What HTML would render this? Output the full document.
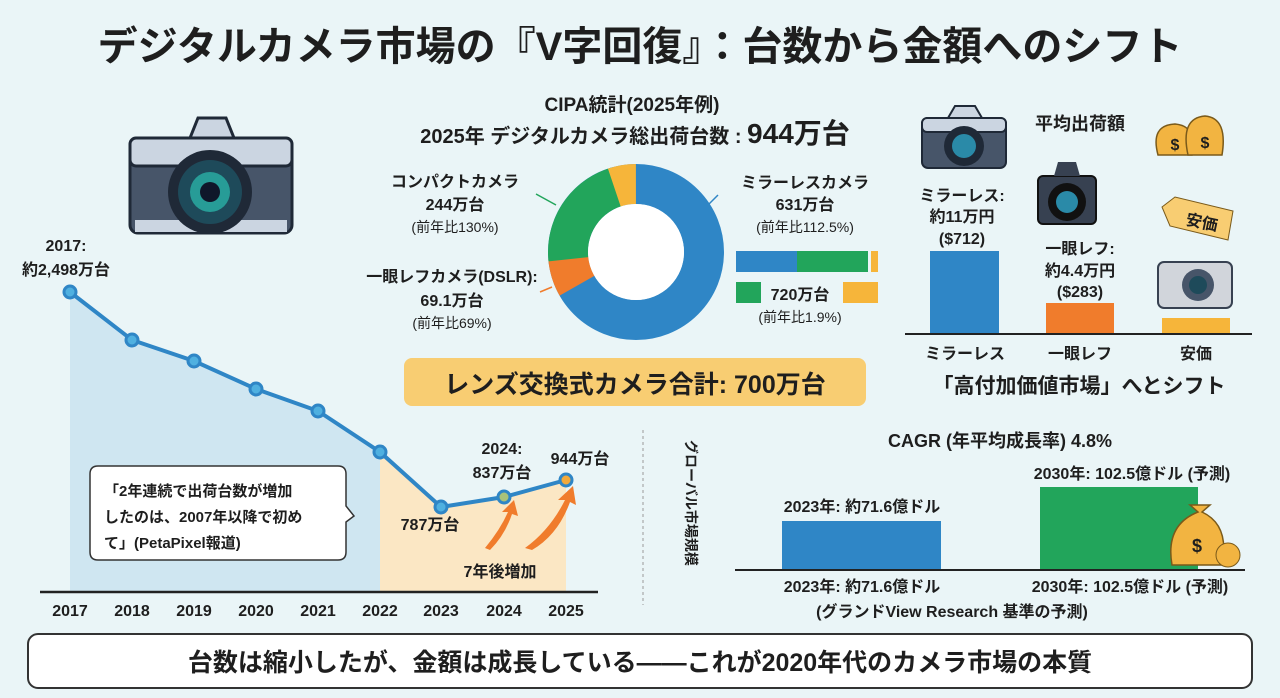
<!DOCTYPE html>
<html><head><meta charset="utf-8"><style>
html,body{margin:0;padding:0;background:#eaf5f7;}
svg{display:block;font-family:"Liberation Sans","Noto Sans CJK JP",sans-serif;}
.b{font-weight:bold;fill:#1e1e1e}
</style></head><body>
<svg width="1280" height="698" viewBox="0 0 1280 698" xmlns="http://www.w3.org/2000/svg">
<rect width="1280" height="698" fill="#eaf5f7"/>
<text x="640" y="60" text-anchor="middle" class="b" font-size="40">デジタルカメラ市場の『V字回復』：台数から金額へのシフト</text>

<!-- left camera -->
<g>
<rect x="130" y="138" width="162" height="95" rx="8" fill="#475569" stroke="#1f2937" stroke-width="3"/>
<rect x="130" y="138" width="162" height="28" rx="6" fill="#cbd5e1" stroke="#1f2937" stroke-width="3"/>
<path d="M190 138 L198 118 L226 118 L234 138 Z" fill="#cbd5e1" stroke="#1f2937" stroke-width="3"/>
<rect x="135" y="220" width="152" height="12" fill="#cbd5e1"/>
<circle cx="210" cy="192" r="42" fill="#1f2937"/>
<circle cx="210" cy="192" r="32" fill="#1e4a5a"/>
<circle cx="210" cy="192" r="20" fill="#2dd4bf" opacity=".6"/>
<circle cx="210" cy="192" r="10" fill="#0f172a"/>
</g>

<!-- line chart -->
<polygon points="70,292 132,340 194,361 256,389 318,411 380,452 380,592 70,592" fill="#cfe6f1"/>
<polygon points="380,452 441,507 504,497 566,480 566,592 380,592" fill="#fbe7c4"/>
<line x1="40" y1="592" x2="598" y2="592" stroke="#222" stroke-width="2.5"/>
<polyline points="70,292 132,340 194,361 256,389 318,411 380,452 441,507 504,497 566,480" fill="none" stroke="#2f86c6" stroke-width="4"/>
<g fill="#4fb0e0" stroke="#2f86c6" stroke-width="3">
<circle cx="70" cy="292" r="6"/><circle cx="132" cy="340" r="6"/><circle cx="194" cy="361" r="6"/><circle cx="256" cy="389" r="6"/><circle cx="318" cy="411" r="6"/><circle cx="380" cy="452" r="6"/><circle cx="441" cy="507" r="6"/>
<circle cx="504" cy="497" r="6" fill="#a9c27a"/><circle cx="566" cy="480" r="6" fill="#f2a93b"/>
</g>
<g class="b" font-size="16" text-anchor="middle">
<text x="70" y="616">2017</text><text x="132" y="616">2018</text><text x="194" y="616">2019</text><text x="256" y="616">2020</text><text x="318" y="616">2021</text><text x="380" y="616">2022</text><text x="441" y="616">2023</text><text x="504" y="616">2024</text><text x="566" y="616">2025</text>
<text x="66" y="251">2017:</text><text x="66" y="275">約2,498万台</text>
<text x="502" y="454">2024:</text><text x="502" y="478">837万台</text>
<text x="580" y="464">944万台</text>
<text x="430" y="530">787万台</text>
<text x="500" y="577">7年後増加</text>
</g>
<path d="M485 548 Q500 530 508 512 L502 512 L514 500 L518 516 L512 514 Q505 535 490 550 Z" fill="#f07c2c"/>
<path d="M525 548 Q550 530 565 500 L558 500 L573 486 L576 505 L570 502 Q558 535 532 550 Z" fill="#f07c2c"/>
<path d="M98 466 H338 Q346 466 346 474 V506 L354 516 L346 522 V552 Q346 560 338 560 H98 Q90 560 90 552 V474 Q90 466 98 466 Z" fill="#fff" stroke="#333" stroke-width="1.5"/>
<g class="b" font-size="15">
<text x="104" y="496">「2年連続で出荷台数が増加</text>
<text x="104" y="522">したのは、2007年以降で初め</text>
<text x="104" y="548">て」(PetaPixel報道)</text>
</g>

<!-- donut -->
<g transform="translate(636,252)">
<circle r="68" fill="none" stroke="#2f86c6" stroke-width="40"/>
<circle r="68" fill="none" stroke="#f07c2c" stroke-width="40" stroke-dasharray="30 397" stroke-dashoffset="-285" transform="rotate(-90)"/>
<circle r="68" fill="none" stroke="#22a55b" stroke-width="40" stroke-dasharray="95 332" stroke-dashoffset="-313" transform="rotate(-90)"/>
<circle r="68" fill="none" stroke="#f6b53a" stroke-width="40" stroke-dasharray="22 405" stroke-dashoffset="-405" transform="rotate(-90)"/>
<circle r="48" fill="#fff"/>
</g>
<line x1="536" y1="194" x2="556" y2="205" stroke="#22a55b" stroke-width="1.5"/>
<line x1="540" y1="292" x2="552" y2="287" stroke="#f07c2c" stroke-width="1.5"/>
<line x1="718" y1="195" x2="708" y2="205" stroke="#2f86c6" stroke-width="1.5"/>
<g class="b" text-anchor="middle">
<text x="632" y="111" font-size="19">CIPA統計(2025年例)</text>
<text x="635" y="143" font-size="20">2025年 デジタルカメラ総出荷台数 : <tspan font-size="28">944万台</tspan></text>
<text x="455" y="187" font-size="16">コンパクトカメラ</text>
<text x="455" y="210" font-size="16">244万台</text>
<text x="455" y="232" font-size="14" font-weight="normal">(前年比130%)</text>
<text x="452" y="282" font-size="16">一眼レフカメラ(DSLR):</text>
<text x="452" y="306" font-size="16">69.1万台</text>
<text x="452" y="328" font-size="14" font-weight="normal">(前年比69%)</text>
<text x="805" y="188" font-size="16">ミラーレスカメラ</text>
<text x="805" y="210" font-size="16">631万台</text>
<text x="805" y="232" font-size="14" font-weight="normal">(前年比112.5%)</text>
<text x="800" y="300" font-size="16">720万台</text>
<text x="800" y="322" font-size="14" font-weight="normal">(前年比1.9%)</text>
</g>
<rect x="736" y="251" width="61" height="21" fill="#2f86c6"/><rect x="797" y="251" width="71" height="21" fill="#22a55b"/><rect x="871" y="251" width="7" height="21" fill="#f6b53a"/>
<rect x="736" y="282" width="25" height="21" fill="#22a55b"/><rect x="843" y="282" width="35" height="21" fill="#f6b53a"/>
<rect x="404" y="358" width="462" height="48" rx="8" fill="#f8cd72"/>
<text x="635" y="393" text-anchor="middle" class="b" font-size="25">レンズ交換式カメラ合計: 700万台</text>

<!-- right avg price -->
<g>
<rect x="922" y="118" width="84" height="50" rx="6" fill="#475569" stroke="#1f2937" stroke-width="2"/>
<rect x="922" y="118" width="84" height="14" rx="5" fill="#cbd5e1" stroke="#1f2937" stroke-width="2"/>
<path d="M948 118 L955 106 L975 106 L982 118Z" fill="#cbd5e1" stroke="#1f2937" stroke-width="2"/>
<circle cx="964" cy="146" r="20" fill="#1f2937"/><circle cx="964" cy="146" r="12" fill="#2a8aa8"/>
<rect x="1038" y="176" width="58" height="48" rx="5" fill="#374151" stroke="#111" stroke-width="2"/>
<path d="M1054 176 L1058 162 L1076 162 L1080 176Z" fill="#374151"/>
<circle cx="1067" cy="202" r="19" fill="#111"/><circle cx="1067" cy="202" r="11" fill="#2a8aa8"/>
<rect x="1158" y="262" width="74" height="46" rx="6" fill="#d1d5db" stroke="#374151" stroke-width="2"/>
<circle cx="1198" cy="285" r="16" fill="#475569"/><circle cx="1198" cy="285" r="9" fill="#1e4a5a"/>
<path d="M1162 207 L1175 197 L1233 211 L1228 240 L1170 226 Z" fill="#f8cd72" stroke="#7a5a1a"/>
<text x="1202" y="228" class="b" font-size="16" transform="rotate(12 1202 222)" text-anchor="middle">安価</text>
<g fill="#f2b441" stroke="#7a5a1a" stroke-width="1.5">
<path d="M1158 155 Q1150 125 1175 124 Q1198 126 1192 155 Z"/><path d="M1188 155 Q1180 118 1205 116 Q1228 118 1222 155 Z"/>
</g>
<text x="1175" y="150" font-size="16" class="b" text-anchor="middle">$</text><text x="1205" y="148" font-size="16" class="b" text-anchor="middle">$</text>
</g>
<rect x="930" y="251" width="69" height="83" fill="#2f86c6"/>
<rect x="1046" y="303" width="68" height="31" fill="#f07c2c"/>
<rect x="1162" y="318" width="68" height="16" fill="#f6b53a"/>
<line x1="905" y1="334" x2="1252" y2="334" stroke="#222" stroke-width="2"/>
<g class="b" text-anchor="middle" font-size="16">
<text x="1080" y="130" font-size="18">平均出荷額</text>
<text x="962" y="201">ミラーレス:</text><text x="962" y="222">約11万円</text><text x="962" y="244">($712)</text>
<text x="1080" y="254">一眼レフ:</text><text x="1080" y="276">約4.4万円</text><text x="1080" y="297">($283)</text>
<text x="965" y="359">ミラーレス</text><text x="1080" y="359">一眼レフ</text><text x="1196" y="359">安価</text>
<text x="1079" y="393" font-size="21">「高付加価値市場」へとシフト</text>
</g>

<!-- bottom right -->
<line x1="643" y1="430" x2="643" y2="605" stroke="#999" stroke-dasharray="3 3"/>
<text x="0" y="0" class="b" font-size="14" transform="translate(686,440) rotate(90)">グローバル市場規模</text>
<rect x="782" y="521" width="159" height="49" fill="#2f86c6"/>
<rect x="1040" y="487" width="158" height="83" fill="#22a55b"/>
<line x1="735" y1="570" x2="1245" y2="570" stroke="#222" stroke-width="2"/>
<path d="M1172 565 Q1165 525 1198 512 L1190 505 L1210 505 L1202 512 Q1230 525 1222 565 Z" fill="#f2b441" stroke="#7a5a1a" stroke-width="1.5"/>
<ellipse cx="1228" cy="555" rx="12" ry="12" fill="#f2b441" stroke="#7a5a1a"/>
<text x="1197" y="552" class="b" font-size="18" text-anchor="middle">$</text>
<g class="b" text-anchor="middle" font-size="16">
<text x="1000" y="447" font-size="18">CAGR (年平均成長率) 4.8%</text>
<text x="1132" y="479">2030年: 102.5億ドル (予測)</text>
<text x="862" y="512">2023年: 約71.6億ドル</text>
<text x="862" y="592">2023年: 約71.6億ドル</text>
<text x="1130" y="592">2030年: 102.5億ドル (予測)</text>
<text x="952" y="617">(グランドView Research 基準の予測)</text>
</g>

<!-- bottom banner -->
<rect x="28" y="634" width="1224" height="54" rx="10" fill="#fff" stroke="#333" stroke-width="2"/>
<text x="640" y="671" text-anchor="middle" class="b" font-size="25">台数は縮小したが、金額は成長している――これが2020年代のカメラ市場の本質</text>
</svg>
</body></html>
